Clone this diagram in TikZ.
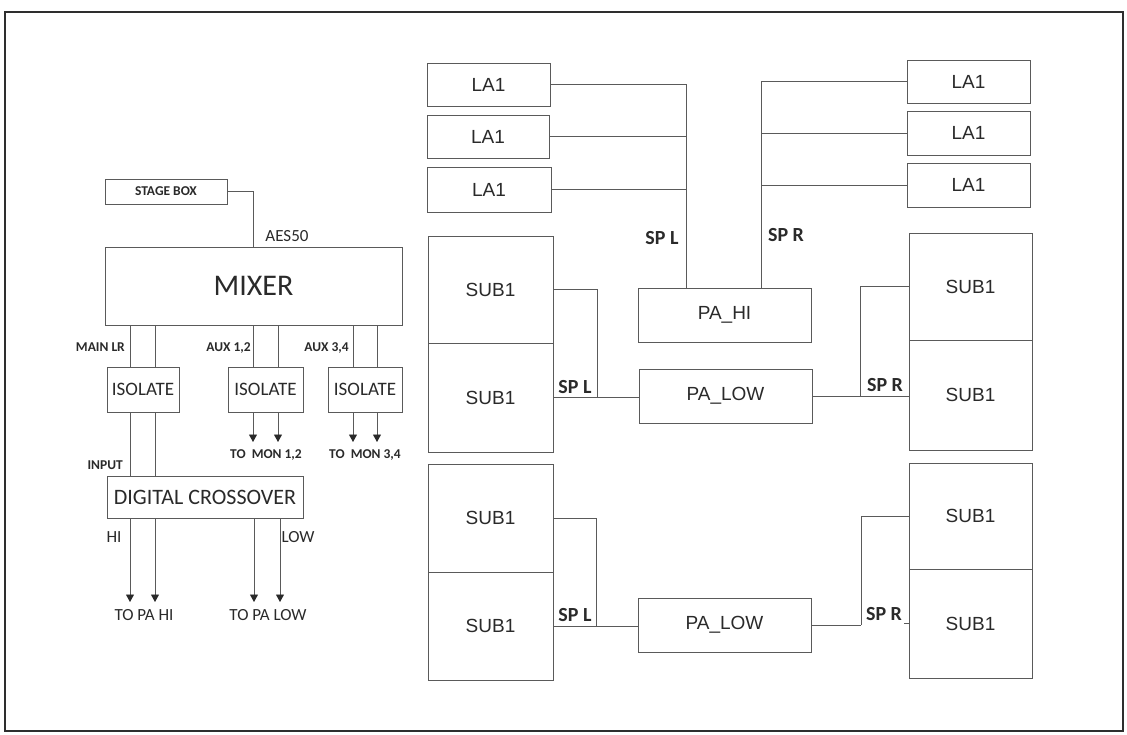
\documentclass[tikz,border=0pt]{standalone}
\usepackage{fontspec}
\setmainfont{Carlito}
\newfontfamily\arialf{Liberation Sans}
\usetikzlibrary{arrows.meta}
\definecolor{ln}{HTML}{5A5A5A}
\definecolor{tx}{HTML}{2A2A2A}
\definecolor{fr}{HTML}{2E2E2E}
\newcommand{\fs}[1]{\fontsize{#1}{#1}\selectfont}
\begin{document}
\begin{tikzpicture}[x=1pt,y=-1pt,
  box/.style={draw=ln, line width=0.8pt, rectangle, inner sep=0pt, text=tx},
  abox/.style={box, font=\arialf\fs{19}},
  wire/.style={draw=ln, line width=0.8pt},
  arr/.style={wire, -{Triangle[width=8pt,length=7.5pt,color=tx]}},
  lbl/.style={text=tx, inner sep=0pt},
  small/.style={lbl, font=\bfseries\fs{13.5}},
  mid/.style={lbl, font=\fs{17}},
  sp/.style={lbl, font=\bfseries\fs{20}}]
\useasboundingbox (0,0) rectangle (1127,734);
\fill[white] (0,0) rectangle (1127,734);
\draw[fr, line width=2pt] (5,12) rectangle (1123,731);

% ---------- left part ----------
\node[box, minimum width=122pt, minimum height=25pt, font=\bfseries\fs{13.5}] (stage) at (166,191.5) {STAGE BOX};
\node[box, minimum width=297pt, minimum height=78pt, font=\fs{30}] (mixer) at (253.5,286) {MIXER};
\node[box, minimum width=72pt, minimum height=45pt, font=\fs{19}] (iso1) at (143,389.5) {ISOLATE};
\node[box, minimum width=75pt, minimum height=45pt, font=\fs{19}] (iso2) at (265.5,389.5) {ISOLATE};
\node[box, minimum width=74pt, minimum height=45pt, font=\fs{19}] (iso3) at (365,389.5) {ISOLATE};
\node[box, minimum width=196pt, minimum height=42pt, font=\fs{22}] (xover) at (205,497) {DIGITAL CROSSOVER};

\draw[wire] (stage.east) -| (mixer.north);
\node[lbl, font=\fs{17}] (aes) at (287,236) {AES50};

\coordinate (a1) at (130,0); \coordinate (a2) at (155,0);
\coordinate (b1) at (253,0); \coordinate (b2) at (278,0);
\coordinate (c1) at (353,0); \coordinate (c2) at (377,0);
\coordinate (e1) at (254,0); \coordinate (e2) at (280,0);
\coordinate (tipmon) at (0,442);
\coordinate (tippa) at (0,602);

\foreach \p in {a1,a2} \draw[wire] (\p |- mixer.south) -- (\p |- iso1.north);
\foreach \p in {b1,b2} \draw[wire] (\p |- mixer.south) -- (\p |- iso2.north);
\foreach \p in {c1,c2} \draw[wire] (\p |- mixer.south) -- (\p |- iso3.north);
\foreach \p in {a1,a2} \draw[wire] (\p |- iso1.south) -- (\p |- xover.north);
\foreach \p in {b1,b2} \draw[arr] (\p |- iso2.south) -- (\p |- tipmon);
\foreach \p in {c1,c2} \draw[arr] (\p |- iso3.south) -- (\p |- tipmon);
\foreach \p in {a1,a2,e1,e2} \draw[arr] (\p |- xover.south) -- (\p |- tippa);

\node[small, anchor=east] (mainlr) at (125,347.5) {MAIN LR};
\node[small, anchor=east] (aux12) at (251,347.5) {AUX 1,2};
\node[small, anchor=east] (aux34) at (349,347.5) {AUX 3,4};
\node[small, anchor=east] (input) at (123,465) {INPUT};
\node[small] (mon12) at (266,455) {TO\ \ MON 1,2};
\node[small] (mon34) at (365,455) {TO\ \ MON 3,4};
\node[mid] (hi) at (114,537) {HI};
\node[mid] (low) at (298,537) {LOW};
\node[mid] (topahi) at (144,615) {TO PA HI};
\node[mid] (topalow) at (268,615) {TO PA LOW};

% ---------- right part ----------
\node[abox, minimum width=123pt, minimum height=43pt] (laL1) at (488.5,84.5) {LA1};
\node[abox, minimum width=122pt, minimum height=43pt] (laL2) at (488,136.5) {LA1};
\node[abox, minimum width=124pt, minimum height=45pt] (laL3) at (489,189.5) {LA1};
\node[abox, minimum width=123pt, minimum height=43pt] (laR1) at (968.5,81.5) {LA1};
\node[abox, minimum width=123pt, minimum height=44pt] (laR2) at (968.5,133) {LA1};
\node[abox, minimum width=123pt, minimum height=44pt] (laR3) at (968.5,185) {LA1};

\node[abox, minimum width=173pt, minimum height=54pt] (pahi) at (724.5,315) {PA\_HI};
\node[abox, minimum width=173pt, minimum height=54pt] (palow1) at (725.5,396) {PA\_LOW};
\node[abox, minimum width=173pt, minimum height=54pt] (palow2) at (724.5,625) {PA\_LOW};

\node[abox, minimum width=125pt, minimum height=107pt] (subUL1) at (490.5,289.5) {SUB1};
\node[abox, minimum width=125pt, minimum height=109pt] (subUL2) at (490.5,397.5) {SUB1};
\node[abox, minimum width=123pt, minimum height=107pt] (subUR1) at (970.5,286.5) {SUB1};
\node[abox, minimum width=123pt, minimum height=110pt] (subUR2) at (970.5,395) {SUB1};
\node[abox, minimum width=125pt, minimum height=108pt] (subLL1) at (490.5,518) {SUB1};
\node[abox, minimum width=125pt, minimum height=108pt] (subLL2) at (490.5,626) {SUB1};
\node[abox, minimum width=123pt, minimum height=106pt] (subLR1) at (970.5,516) {SUB1};
\node[abox, minimum width=123pt, minimum height=109pt] (subLR2) at (970.5,623.5) {SUB1};

% LA to PA_HI
\coordinate (hiL) at (686,288);
\coordinate (hiR) at (761,288);
\draw[wire] (laL1.east) -| (hiL);
\draw[wire] (laL2.east) -- (laL2.east -| hiL);
\draw[wire] (laL3.east) -- (laL3.east -| hiL);
\draw[wire] (laR1.west) -| (hiR);
\draw[wire] (laR2.west) -- (laR2.west -| hiR);
\draw[wire] (laR3.west) -- (laR3.west -| hiR);
\node[sp] (spl1) at (662,238) {SP L};
\node[sp] (spr1) at (786,235) {SP R};

% upper subs
\coordinate (jUL) at (597,397.5);
\draw[wire] (subUL1.east) -| (jUL);
\draw[wire] (subUL2.east) -- (subUL2.east -| palow1.west);
\coordinate (jUR) at (860,396);
\draw[wire] (palow1.east) -- (palow1.east -| subUR2.west);
\draw[wire] (jUR) |- (subUR1.west);
\node[sp] (spl2) at (575,387) {SP L};
\node[sp] (spr2) at (885,385) {SP R};

% lower subs
\coordinate (jLL) at (596,626);
\draw[wire] (subLL1.east) -| (jLL);
\draw[wire] (subLL2.east) -- (subLL2.east -| palow2.west);
\coordinate (jLR) at (861,625);
\draw[wire] (palow2.east) -- (jLR);
\draw[wire] (jLR) |- (subLR1.west);
\draw[wire] (subLR2.west) -- ++(-5,0);
\node[sp] (spl3) at (575,615) {SP L};
\node[sp] (spr3) at (884,614) {SP R};
\end{tikzpicture}
\end{document}
